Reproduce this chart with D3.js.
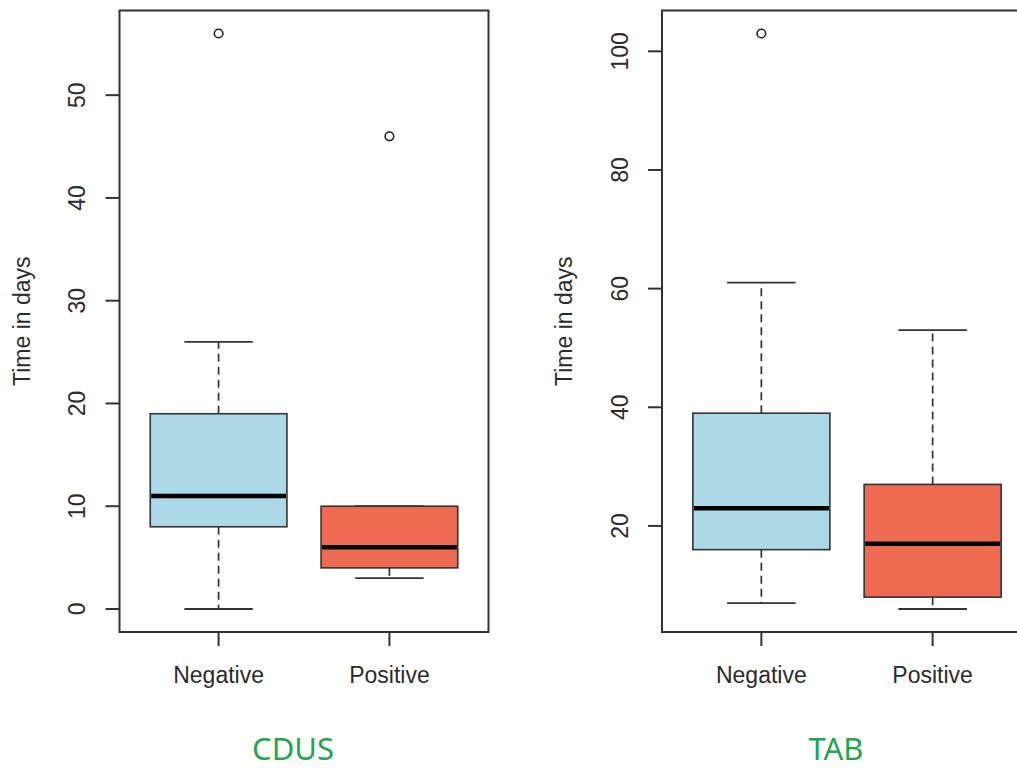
<!DOCTYPE html>
<html>
<head>
	<meta charset='utf-8'>
	<title>Time in days boxplots</title>
	<style>
		body {margin: 0; background: #fff}
		svg {display: block}
		.frame {fill: none; stroke: #333; stroke-width: 2px}
		.tick {stroke: #333; stroke-width: 2px}
		.lbl {font-family: 'Liberation Sans', Arial, sans-serif; font-size: 23px; fill: #2b2b2b}
		.box {stroke: #333; stroke-width: 1.6px}
		.med {stroke: #000; stroke-width: 4.5px}
		.whisk {stroke: #333; stroke-width: 1.7px; stroke-dasharray: 8,5}
		.cap {stroke: #333; stroke-width: 1.8px}
		.out {fill: none; stroke: #222; stroke-width: 1.6px}
		.tag {font-family: 'Comic Sans MS', 'Noto Sans', sans-serif; font-size: 31px; fill: #21a64f}
	</style>
</head>
<body>
	<script src='https://d3js.org/d3.v7.min.js'></script>
	<script>

		// categories and panel names
		var groups = ["Negative", "Positive"];
		var panelNames = ["CDUS", "TAB"];
		var boxColors = ["#ADD8E6", "#EE6A50"];

		// CDUS summary values (per group)
		var cdusLow = [0, 3];
		var cdusQ1 = [8, 4];
		var cdusMedian = [11, 6];
		var cdusQ3 = [19, 10];
		var cdusHigh = [26, 10];
		var cdusOutliers = [[56], [46]];
		var cdusTicks = [0, 10, 20, 30, 40, 50];

		// TAB summary values (per group)
		var tabLow = [7, 6];
		var tabQ1 = [16, 8];
		var tabMedian = [23, 17];
		var tabQ3 = [39, 27];
		var tabHigh = [61, 53];
		var tabOutliers = [[103], []];
		var tabTicks = [20, 40, 60, 80, 100];

		var W = 1017, H = 768;
		var svg = d3.select('body').append('svg').attr('width', W).attr('height', H);

		var panels = [
			{name: panelNames[0], low: cdusLow, q1: cdusQ1, med: cdusMedian, q3: cdusQ3, high: cdusHigh, outs: cdusOutliers, ticks: cdusTicks,
				left: 119.5, right: 488.5, tickX: 77, titleX: 23},
			{name: panelNames[1], low: tabLow, q1: tabQ1, med: tabMedian, q3: tabQ3, high: tabHigh, outs: tabOutliers, ticks: tabTicks,
				left: 662, right: 1032, tickX: 620, titleX: 565}
		];

		var plotTop = 10.5, plotBottom = 632;

		panels.forEach(drawPanel);

		function drawPanel(p) {
			var g = svg.append('g');

			// R style range: data extent padded by 4%
			var all = p.low.concat(p.high, d3.merge(p.outs));
			var lo = d3.min(all), hi = d3.max(all);
			var pad = (hi - lo) * 0.04;
			var y = d3.scaleLinear().domain([lo - pad, hi + pad]).range([plotBottom, plotTop]);
			var x = d3.scaleLinear().domain([0.42, groups.length + 0.58]).range([p.left, p.right]);

			var bw = 0.4, cw = 0.2;

			var idx = d3.range(groups.length);

			// whiskers
			g.selectAll('.wu').data(idx).enter().append('line')
				.attr('class', 'whisk')
				.attr('x1', function (i) {return x(i + 1);})
				.attr('x2', function (i) {return x(i + 1);})
				.attr('y1', function (i) {return y(p.q3[i]);})
				.attr('y2', function (i) {return y(p.high[i]);});
			g.selectAll('.wl').data(idx).enter().append('line')
				.attr('class', 'whisk')
				.attr('x1', function (i) {return x(i + 1);})
				.attr('x2', function (i) {return x(i + 1);})
				.attr('y1', function (i) {return y(p.q1[i]);})
				.attr('y2', function (i) {return y(p.low[i]);});

			// caps
			['high', 'low'].forEach(function (k) {
				g.selectAll('.cap-' + k).data(idx).enter().append('line')
					.attr('class', 'cap')
					.attr('x1', function (i) {return x(i + 1 - cw);})
					.attr('x2', function (i) {return x(i + 1 + cw);})
					.attr('y1', function (i) {return y(p[k][i]);})
					.attr('y2', function (i) {return y(p[k][i]);});
			});

			// boxes
			g.selectAll('rect').data(idx).enter().append('rect')
				.attr('class', 'box')
				.attr('x', function (i) {return x(i + 1 - bw);})
				.attr('width', function (i) {return x(i + 1 + bw) - x(i + 1 - bw);})
				.attr('y', function (i) {return y(p.q3[i]);})
				.attr('height', function (i) {return y(p.q1[i]) - y(p.q3[i]);})
				.attr('fill', function (i) {return boxColors[i];});

			// medians
			g.selectAll('.med').data(idx).enter().append('line')
				.attr('class', 'med')
				.attr('x1', function (i) {return x(i + 1 - bw) + 1;})
				.attr('x2', function (i) {return x(i + 1 + bw) - 1;})
				.attr('y1', function (i) {return y(p.med[i]);})
				.attr('y2', function (i) {return y(p.med[i]);});

			// outliers
			var outPts = [];
			p.outs.forEach(function (arr, i) {
				arr.forEach(function (v) {outPts.push({i: i, v: v});});
			});
			g.selectAll('circle').data(outPts).enter().append('circle')
				.attr('class', 'out')
				.attr('cx', function (d) {return x(d.i + 1);})
				.attr('cy', function (d) {return y(d.v);})
				.attr('r', 4.3);

			// frame
			g.append('rect').attr('class', 'frame')
				.attr('x', p.left).attr('y', plotTop)
				.attr('width', p.right - p.left).attr('height', plotBottom - plotTop);

			// y axis ticks + labels
			g.selectAll('.yt').data(p.ticks).enter().append('line')
				.attr('class', 'tick')
				.attr('x1', p.left - 14).attr('x2', p.left)
				.attr('y1', function (d) {return y(d);})
				.attr('y2', function (d) {return y(d);});
			g.selectAll('.yl').data(p.ticks).enter().append('text')
				.attr('class', 'lbl')
				.attr('text-anchor', 'middle')
				.attr('dy', '0.36em')
				.attr('transform', function (d) {return 'translate(' + p.tickX + ',' + y(d) + ') rotate(-90)';})
				.text(function (d) {return d;});

			// x axis ticks + labels
			g.selectAll('.xt').data(idx).enter().append('line')
				.attr('class', 'tick')
				.attr('x1', function (i) {return x(i + 1);})
				.attr('x2', function (i) {return x(i + 1);})
				.attr('y1', plotBottom).attr('y2', plotBottom + 14);
			g.selectAll('.xl').data(idx).enter().append('text')
				.attr('class', 'lbl')
				.attr('text-anchor', 'middle')
				.attr('x', function (i) {return x(i + 1);})
				.attr('y', 683)
				.text(function (i) {return groups[i];});

			// y title
			g.append('text').attr('class', 'lbl')
				.attr('text-anchor', 'middle')
				.attr('dy', '0.3em')
				.attr('transform', 'translate(' + p.titleX + ',' + (plotTop + plotBottom) / 2 + ') rotate(-90)')
				.text('Time in days');

			// panel tag under chart
			g.append('text').attr('class', 'tag')
				.attr('text-anchor', 'middle')
				.attr('x', (x(1) + x(2)) / 2 - 11)
				.attr('y', 760)
				.text(p.name);
		}

	</script>
</body>
</html>
